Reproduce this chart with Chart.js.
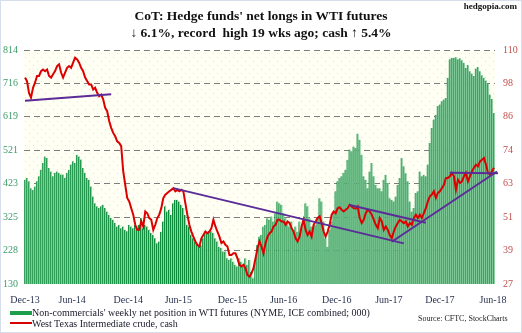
<!DOCTYPE html>
<html>
<head>
<meta charset="utf-8">
<script src="https://cdn.jsdelivr.net/npm/chart.js@4.4.1/dist/chart.umd.min.js"></script>
<style>
  html, body { margin: 0; padding: 0; background: #fff; }
  #wrap { position: relative; width: 522px; height: 333px; overflow: hidden; font-family: "Liberation Serif", "Times New Roman", serif; color: #111; }
  #wrap canvas { position: absolute; left: 0; top: 0; }
  .title { position: absolute; left: 0; width: 522px; text-align: center; font-weight: bold; font-size: 13.5px; line-height: 17px; white-space: nowrap; }
  .site { position: absolute; right: 5px; top: 1px; font-weight: bold; font-size: 9px; }
  .leg { position: absolute; left: 32px; font-size: 10px; line-height: 11px; white-space: nowrap; color: #1a1a2a; }
  .sw { position: absolute; left: 10px; width: 22px; }
  .src { position: absolute; left: 418px; top: 314px; font-size: 8px; white-space: nowrap; color: #222; }
  .frame { position: absolute; left: 0; top: 0; width: 522px; height: 333px; box-sizing: border-box; border: 1px solid #d5deea; pointer-events: none; }
</style>
</head>
<body>
<div id="wrap">
  <canvas id="cotChart" width="522" height="333"></canvas>
  <div class="title" style="top:7px">CoT: Hedge funds' net longs in WTI futures</div>
  <div class="title" style="top:24px">↓ 6.1%, record&nbsp; high 19 wks ago; cash ↑ 5.4%</div>
  <div class="site">hedgopia.com</div>
  <div class="sw" style="top:311px;height:4px;background:#1f9e4c"></div>
  <div class="leg" style="top:307px">Non-commercials' weekly net position in WTI futures (NYME, ICE combined; 000)</div>
  <div class="sw" style="top:322px;height:2px;background:#d80000"></div>
  <div class="leg" style="top:318px">West Texas Intermediate crude, cash</div>
  <div class="src">Source: CFTC, StockCharts</div>
  <div class="frame"></div>
</div>
<script>
//------ Data (weekly, Dec-13 .. Jun-18) ------//
const netLongs = [
  435,440,430,410,405,415,430,445,464,484, 503,498,469,459,445,455,459,455,450,450,
  440,455,464,479,489,484,508,503,494,469, 455,440,435,415,386,366,357,352,357,362,
  352,342,332,323,318,308,298,303,293,298, 288,284,303,298,293,303,298,303,323,
  293,303,298,288,279,274,264,249,254,283, 313,357,342,347,332,366,376,376,371,362,
  352,332,303,298,274,264,254,244,239,244, 264,279,279,284,284,279,264,254,239,235,
  225,225,205,200,205,195,186,181,205,195, 181,205,186,200,166,147,195,244,269,
  274,298,303,322,318,327,313,337,371,366, 362,337,322,313,298,313,288,298,283,313,
  288,318,366,357,322,298,298,303,322,381, 371,313,264,239,288,313,342,401,430,440,
  445,455,464,493,523,518,532,528,569,552, 508,445,435,410,459,484,445,420,410,
  410,401,435,449,425,381,376,371,386,420, 440,498,474,454,430,371,342,352,396,401,
  459,445,449,445,479,542,586,611,625,650, 655,664,669,674,733,787,791,791,793,787,
  790,784,777,762,770,752,745,738,760,764, 752,740,733,725,715,684,671,630
];

const wtiCash = [
  100.2,99,94.8,93.1,96.6,98.4,100.8,100.8,102.5,103.1, 102.5,103.1,100.8,100.2,101.4,102.5,104.3,104.9,102,100.2,
  102,103.7,104.3,103.7,105.5,107.3,106.7,105.5,103.7,102.5, 100.2,99,97.8,97.8,96,96.6,94.8,93.6,94.2,92.5,
  89.5,88.3,84.8,82.4,80.6,79.4,77.6,77,75.9,67, 62.2,57.5,56.3,53.9,51.6,48,46.2,46.2,49.2,
  47.4,52.7,52.1,50.4,49.8,46.2,48,50.4,51.6,53.9, 57.5,58.7,59.3,59.9,60.4,61,59.9,60.4,59.9,60.4,
  59.9,55.7,51.6,48,45.6,43.8,42.1,40.9,40.3,43.2, 44.4,45.6,45,45.6,46.8,49.8,47.4,45.6,43.8,41.5,
  42.1,40.9,40.3,37.3,37.3,37.9,37.9,36.1,33.8,33.2, 33.8,32.6,30.2,29.6,30.8,32.6,36.1,39.7,42.1,
  40.3,37.9,41.5,43.8,45,45.6,47.4,48,49.8,49.8, 49.2,49.2,48,49.2,48.6,46.8,45.6,43.2,42.1,43.8,
  47.4,49.8,46.2,44.4,45.6,43.8,48,49.2,50.4,51, 48.6,45.6,43.8,45.6,48,51.6,52.7,52.1,53.9,54.2,
  53.3,52.7,53.3,53.9,55.1,54.5,53.9,53.7,54.5,50.4, 48.6,49.8,52.1,53.3,52.7,51.6,49.8,48,46.8,
  50.4,49.2,46.2,47.4,46.2,44.4,43.2,45.6,47.4,48.6, 49.8,49.2,48.6,49.2,47.4,48.6,48,50.4,51.6,50.4,
  51.6,50.4,52.1,53.9,56.3,58.1,58.7,59.9,57.5,59.3, 59.9,61,62.2,64.6,64.6,65.2,66.4,65.2,60.4,64,
  62.8,63.4,65.2,66.4,63.4,65.2,67,68.2,69.3,68.7, 70.5,71.1,71.7,69.3,66.4,65.8,67,68.2
];

// trend lines drawn on the chart (week index, price)
const trendTop2014 = [[0, 92.0], [43, 94.3]];
const trendDown = [[74, 61.0], [189, 41.4]];
const trendChannel = [[162, 55.0], [200, 48.7]];
const trendUp = [[183, 42.0], [235.5, 66.9]];
const trendFlat = [[212, 66.5], [236, 66.3]];

// axis ticks
const xTickPos = [0, 23.5, 51.5, 76.5, 103.5, 129, 155.5, 181.5, 207, 233.5];
const xTickLabels = ['Dec-13', 'Jun-14', 'Dec-14', 'Jun-15', 'Dec-15', 'Jun-16', 'Dec-16', 'Jun-17', 'Dec-17', 'Jun-18'];
const leftTicks = [130, 228, 325, 423, 521, 619, 716, 814];
const rightTicks = [27, 39, 51, 63, 74, 86, 98, 110];

//------ Plot background (cream with dots) ------//
const plotBg = {
  id: 'plotBg',
  beforeDraw(chart) {
    const { ctx, chartArea: a } = chart;
    const p = document.createElement('canvas');
    p.width = 8; p.height = 8;
    const pc = p.getContext('2d');
    pc.fillStyle = '#fffff3';
    pc.fillRect(0, 0, 8, 8);
    pc.fillStyle = '#efe6a6';
    pc.fillRect(1, 1, 1, 1);
    pc.fillRect(5, 5, 1, 1);
    ctx.save();
    ctx.fillStyle = ctx.createPattern(p, 'repeat');
    ctx.fillRect(a.left, a.top, a.right - a.left, a.bottom - a.top);
    ctx.restore();
  }
};

const serif = '"Liberation Serif", "Times New Roman", serif';
const toXY = (arr) => arr.map((v, i) => ({ x: i, y: v }));
const trendSet = (pts) => ({
  type: 'line',
  data: pts.map(p => ({ x: p[0], y: p[1] })),
  yAxisID: 'y1',
  borderColor: '#5b2c98',
  borderWidth: 2,
  pointRadius: 0,
  clip: 8,
  order: 1
});

//------ Chart ------//
const ctx = document.getElementById('cotChart');

new Chart(ctx, {
  type: 'bar',
  data: {
    datasets: [
      {
        type: 'bar',
        label: 'Net longs',
        data: toXY(netLongs),
        yAxisID: 'y',
        backgroundColor: '#8fd1a5',
        borderColor: '#0b8a39',
        borderWidth: { left: 1, right: 0, top: 0, bottom: 0 },
        borderSkipped: false,
        barPercentage: 1,
        categoryPercentage: 1,
        order: 3
      },
      {
        type: 'line',
        label: 'WTI cash',
        data: toXY(wtiCash),
        yAxisID: 'y1',
        borderColor: '#dd0000',
        borderWidth: 2,
        pointRadius: 0,
        tension: 0,
        order: 2
      },
      trendSet(trendTop2014),
      trendSet(trendDown),
      trendSet(trendChannel),
      trendSet(trendUp),
      trendSet(trendFlat)
    ]
  },
  options: {
    responsive: false,
    animation: false,
    devicePixelRatio: 1,
    layout: { padding: { top: 50, bottom: 23, left: 0, right: 0 } },
    plugins: { legend: { display: false }, tooltip: { enabled: false }, title: { display: false } },
    scales: {
      x: {
        type: 'linear',
        min: -0.5,
        max: netLongs.length - 0.5,
        offset: false,
        grid: { display: false, offset: false },
        border: { display: false },
        afterBuildTicks: (s) => { s.ticks = xTickPos.map(v => ({ value: v })); },
        afterFit: (s) => { s.height = 26; },
        ticks: {
          autoSkip: false,
          maxRotation: 0,
          padding: 2,
          color: '#2a3350',
          font: { family: serif, size: 10 },
          callback: (v, i) => xTickLabels[i]
        }
      },
      y: {
        position: 'left',
        min: leftTicks[0],
        max: leftTicks[leftTicks.length - 1],
        z: 1,
        afterBuildTicks: (s) => {
          const step = (s.max - s.min) / (leftTicks.length - 1);
          s.ticks = leftTicks.map((t, i) => ({ value: s.min + i * step }));
        },
        afterFit: (s) => { s.width = 24; },
        ticks: {
          padding: 6,
          color: '#3e9b68',
          font: { family: serif, size: 10 },
          callback: (v, i) => leftTicks[i]
        },
        grid: {
          color: (c) => c.index === 0 ? 'rgba(0,0,0,0)' : '#7c7c7c',
          lineWidth: 1,
          drawTicks: false
        },
        border: { display: false, dash: [6, 4] }
      },
      y1: {
        position: 'right',
        min: rightTicks[0],
        max: rightTicks[rightTicks.length - 1],
        afterBuildTicks: (s) => {
          const step = (s.max - s.min) / (rightTicks.length - 1);
          s.ticks = rightTicks.map((t, i) => ({ value: s.min + i * step }));
        },
        afterFit: (s) => { s.width = 27; },
        ticks: {
          padding: 8,
          color: '#c0504d',
          font: { family: serif, size: 10 },
          callback: (v, i) => rightTicks[i]
        },
        grid: { display: false, drawTicks: false },
        border: { display: false }
      }
    }
  },
  plugins: [plotBg]
});
</script>
</body>
</html>
